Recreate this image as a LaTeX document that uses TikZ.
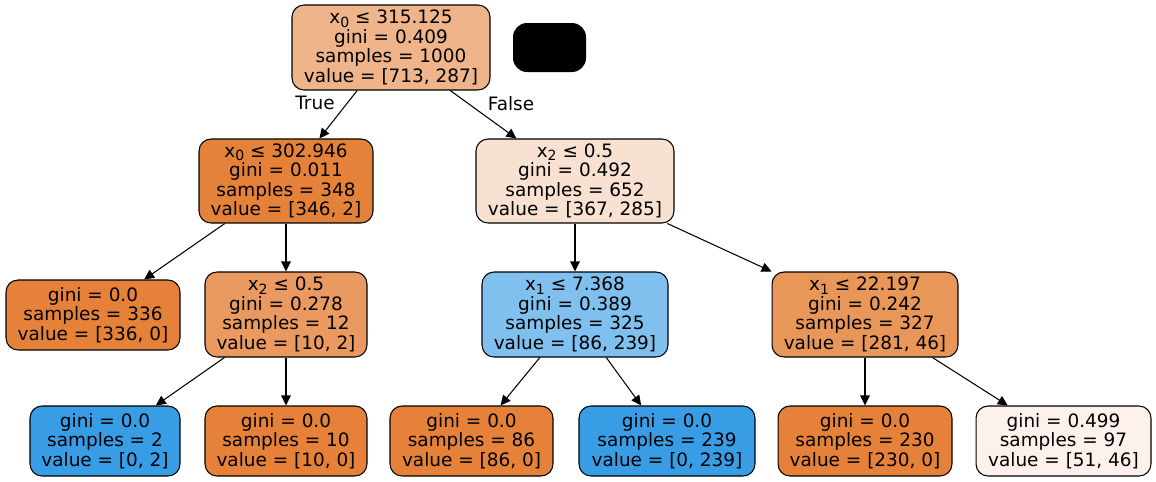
\documentclass[tikz,border=0pt]{standalone}
\usepackage{fontspec}
\setmainfont{DejaVu Sans}
\usepackage{xcolor}
\usepackage{tikz}
\usetikzlibrary{arrows.meta}

\newcommand{\xsub}[1]{\raisebox{-1.9pt}{\fontsize{8}{8}\selectfont #1}}

\tikzset{
  split/.style={draw=black, line width=0.6pt, rounded corners=0.24cm, inner sep=0pt,
    align=center, font=\fontsize{10.5}{9.7}\selectfont},
  edge/.style={line width=0.6pt, -{Triangle[length=0.2cm, width=0.19cm]}},
  branch/.style={font=\fontsize{10.5}{9.7}\selectfont}
}

\begin{document}
\begin{tikzpicture}[x=0.02cm, y=-0.02cm]
% class colours (orange = class 0, blue = class 1)
\definecolor{c713}{RGB}{239,180,137}
\definecolor{c346}{RGB}{229,130,58}
\definecolor{c367}{RGB}{248,225,209}
\definecolor{corange}{RGB}{229,129,57}
\definecolor{cblue}{RGB}{57,157,229}
\definecolor{c10}{RGB}{234,154,97}
\definecolor{c86}{RGB}{128,192,238}
\definecolor{c281}{RGB}{233,150,89}
\definecolor{c51}{RGB}{252,242,235}

\useasboundingbox (0,0) rectangle (1156,481);

% Root
\node[split, fill=c713, minimum width=3.96cm, minimum height=1.7cm] (root) at (391,47.5)
  {x\xsub{0} ≤ 315.125\\gini = 0.409\\samples = 1000\\value = [713, 287]};
\node[fill=black, rounded corners=0.28cm, minimum width=1.46cm, minimum height=0.98cm, inner sep=0pt] (blank) at (549.5,47.5) {};

% Depth 1
\node[split, fill=c346, minimum width=3.48cm, minimum height=1.68cm] (left) at (286,181)
  {x\xsub{0} ≤ 302.946\\gini = 0.011\\samples = 348\\value = [346, 2]};
\node[split, fill=c367, minimum width=3.96cm, minimum height=1.68cm] (right) at (575,181)
  {x\xsub{2} ≤ 0.5\\gini = 0.492\\samples = 652\\value = [367, 285]};

% Depth 2
\node[split, fill=corange, minimum width=3.48cm, minimum height=1.4cm] (leafA) at (93,315)
  {gini = 0.0\\samples = 336\\value = [336, 0]};
\node[split, fill=c10, minimum width=3.24cm, minimum height=1.7cm] (leftR) at (286,314.5)
  {x\xsub{2} ≤ 0.5\\gini = 0.278\\samples = 12\\value = [10, 2]};
\node[split, fill=c86, minimum width=3.72cm, minimum height=1.7cm] (rightL) at (575,314.5)
  {x\xsub{1} ≤ 7.368\\gini = 0.389\\samples = 325\\value = [86, 239]};
\node[split, fill=c281, minimum width=3.72cm, minimum height=1.7cm] (rightR) at (865,314.5)
  {x\xsub{1} ≤ 22.197\\gini = 0.242\\samples = 327\\value = [281, 46]};

% Depth 3 (leaves)
\node[split, fill=cblue, minimum width=3.0cm, minimum height=1.4cm] (leafB) at (105,441)
  {gini = 0.0\\samples = 2\\value = [0, 2]};
\node[split, fill=corange, minimum width=3.24cm, minimum height=1.4cm] (leafC) at (286,441)
  {gini = 0.0\\samples = 10\\value = [10, 0]};
\node[split, fill=corange, minimum width=3.26cm, minimum height=1.4cm] (leafD) at (471.5,441)
  {gini = 0.0\\samples = 86\\value = [86, 0]};
\node[split, fill=cblue, minimum width=3.52cm, minimum height=1.4cm] (leafE) at (667,441)
  {gini = 0.0\\samples = 239\\value = [0, 239]};
\node[split, fill=corange, minimum width=3.48cm, minimum height=1.4cm] (leafF) at (865,441)
  {gini = 0.0\\samples = 230\\value = [230, 0]};
\node[split, fill=c51, minimum width=3.5cm, minimum height=1.4cm] (leafG) at (1063.5,441)
  {gini = 0.499\\samples = 97\\value = [51, 46]};

% Edges
\draw[edge] (root) -- (left);
\draw[edge] (root) -- (right);
\node[branch] (lblTrue) at (315,103) {True};
\node[branch] (lblFalse) at (511,104) {False};

\draw[edge] (left) -- (leafA);
\draw[edge] (left) -- (leftR);
\draw[edge] (right) -- (rightL);
\draw[edge] (right) -- (rightR);

\draw[edge] (leftR) -- (leafB);
\draw[edge] (leftR) -- (leafC);
\draw[edge] (rightL) -- (leafD);
\draw[edge] (rightL) -- (leafE);
\draw[edge] (rightR) -- (leafF);
\draw[edge] (rightR) -- (leafG);

\end{tikzpicture}
\end{document}
